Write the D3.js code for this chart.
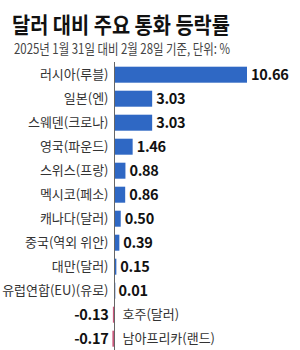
<!DOCTYPE html>
<html>
<head>
<meta charset="utf-8">
<script src="https://cdn.jsdelivr.net/npm/d3@7"></script>
<style>
	body { margin: 0; background: #fff; }
	svg { display: block; font-family: "Noto Sans CJK KR", "Noto Sans", sans-serif; }
</style>
</head>
<body>
<svg id="chart" width="300" height="350"></svg>
<script>
const categories = ['러시아(루블)', '일본(엔)', '스웨덴(크로나)', '영국(파운드)', '스위스(프랑)', '멕시코(페소)',
	'캐나다(달러)', '중국(역외 위안)', '대만(달러)', '유럽연합(EU)(유로)', '호주(달러)', '남아프리카(랜드)', '한국(원)'];
const values = [10.66, 3.03, 3.03, 1.46, 0.88, 0.86, 0.50, 0.39, 0.15, 0.01, -0.13, -0.17, -0.41];
const title = '달러 대비 주요 통화 등락률';
const subtitle = '2025년 1월 31일 대비 2월 28일 기준, 단위: %';

let svg = d3.select('#chart');

// title
svg.append('text')
	.attr('x', 12).attr('y', 33)
	.attr('font-size', 22).attr('font-weight', 700).attr('fill', '#111')
	.attr('textLength', 218).attr('lengthAdjust', 'spacingAndGlyphs')
	.text(title);
svg.append('text')
	.attr('x', 14).attr('y', 54)
	.attr('font-size', 14).attr('fill', '#444')
	.attr('textLength', 216).attr('lengthAdjust', 'spacingAndGlyphs')
	.text(subtitle);

// scales
let xScale = d3.scaleLinear().domain([0, 10.66]).range([114.5, 247]);
let yScale = d3.scaleBand()
	.domain(categories)
	.range([62.7, 62.7 + 24 * categories.length])
	.paddingInner(1 / 3)
	.paddingOuter(1 / 6);

let rows = svg.append('g').selectAll('g')
	.data(categories.map((c, i) => ({ c: c, v: values[i] })))
	.join('g');

rows.append('rect')
	.attr('x', d => xScale(Math.min(0, d.v)))
	.attr('y', d => yScale(d.c))
	.attr('width', d => Math.max(0.8, Math.abs(xScale(d.v) - xScale(0))))
	.attr('height', yScale.bandwidth())
	.attr('fill', d => d.v >= 0 ? '#2f68c4' : '#c9587c');

// category labels
rows.append('text')
	.attr('x', d => d.v >= 0 ? xScale(0) - 6 : xScale(0) + 8)
	.attr('y', d => yScale(d.c) + yScale.bandwidth() / 2 + 4.5)
	.attr('text-anchor', d => d.v >= 0 ? 'end' : 'start')
	.attr('font-size', 13).attr('fill', '#333')
	.text(d => d.c);

// value labels
rows.append('text')
	.attr('x', d => d.v >= 0 ? xScale(d.v) + 4 : xScale(0) - 6)
	.attr('y', d => yScale(d.c) + yScale.bandwidth() / 2 + 5)
	.attr('text-anchor', d => d.v >= 0 ? 'start' : 'end')
	.attr('font-size', 14.5).attr('font-weight', 700).attr('fill', '#111')
	.attr('letter-spacing', -0.3)
	.text(d => d.v.toFixed(2));

// zero axis
svg.append('line')
	.attr('x1', xScale(0)).attr('x2', xScale(0))
	.attr('y1', 62).attr('y2', 350)
	.attr('stroke', '#666').attr('stroke-width', 1);
</script>
</body>
</html>
